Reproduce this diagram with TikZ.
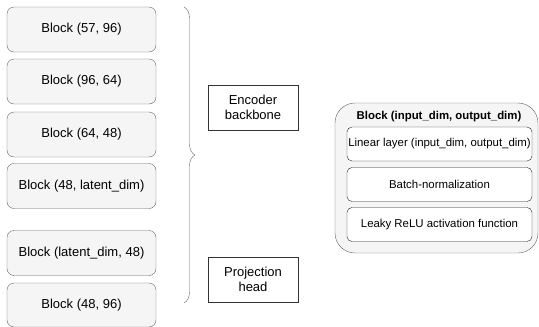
\documentclass[tikz,border=0pt]{standalone}
\usepackage{fontspec}
\setmainfont{Liberation Sans}
\usetikzlibrary{positioning,decorations.pathreplacing}

\definecolor{blockfill}{HTML}{F5F5F5}
\definecolor{blockline}{HTML}{666666}

\tikzset{
    block/.style = {draw=blockline, fill=blockfill, rounded corners=7pt, inner sep=0pt,
                    minimum width=149pt, minimum height=45pt, font=\fontsize{13}{15}\selectfont},
    label/.style = {draw=black!80, fill=white, inner sep=0pt, align=center,
                    minimum width=90pt, minimum height=45pt, font=\fontsize{13}{15.5}\selectfont},
    layer/.style = {draw=black!85, fill=white, rounded corners=5pt, inner sep=0pt,
                    minimum width=185pt, minimum height=34pt, font=\fontsize{11.4}{13}\selectfont},
    curly/.style = {draw=black!60, decorate, decoration={brace, amplitude=11pt}}
}

\begin{document}
\begin{tikzpicture}[x=1pt, y=-1pt]
                \useasboundingbox (0,0) rectangle (539,327);

                % encoder blocks
                \node (b1) [block] at (81.5,29.5) {Block (57, 96)};
                \node (b2) [block] at (81.5,81.5) {Block (96, 64)};
                \node (b3) [block] at (81.5,134.5) {Block (64, 48)};
                \node (b4) [block] at (81.5,186) {Block (48, latent\_dim)};

                % projection blocks
                \node (b5) [block] at (81.5,253) {Block (latent\_dim, 48)};
                \node (b6) [block, minimum height=44pt] at (81.5,305) {Block (48, 96)};

                \node (enc) [label] at (253,107.5) {Encoder\\backbone};
                \node (proj) [label] at (253,279.5) {Projection\\head};

                \coordinate (enctop) at (184,7);
                \coordinate (encbot) at (184,208);
                \coordinate (projtop) at (184,231);
                \coordinate (projbot) at (184,326);

                \path [curly]
                    (enctop) -- (encbot)
                    (projtop) -- (projbot);

                % block detail
                \node (detail) [block, rounded corners=20pt, minimum width=203pt, minimum height=150pt]
                    at (436.5,178) {};
                \node (title) [font=\fontsize{11.4}{13}\bfseries\selectfont] at (439,117) {Block (input\_dim, output\_dim)};
                \node (lin) [layer] at (439.5,144) {Linear layer (input\_dim, output\_dim)};
                \node (bn) [layer] at (439.5,184.5) {Batch-normalization};
                \node (act) [layer] at (439.5,224.5) {Leaky ReLU activation function};
            \end{tikzpicture}
\end{document}
